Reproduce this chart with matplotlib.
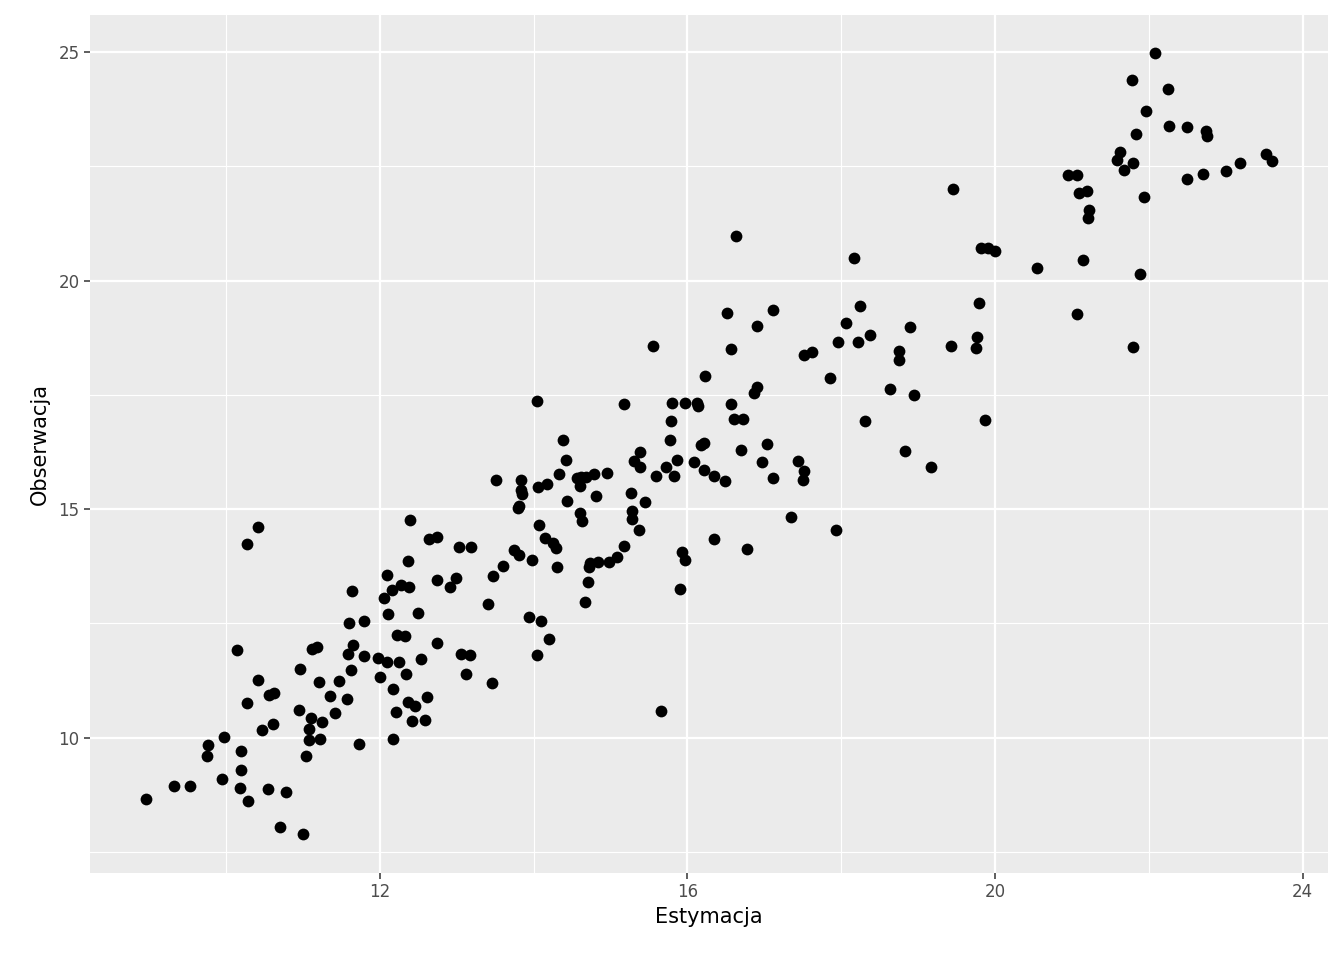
import matplotlib
matplotlib.use("Agg")
import matplotlib.pyplot as plt
from matplotlib.ticker import MultipleLocator

# Estymacja vs Obserwacja
estymacja = [8.96, 9.32, 9.53, 9.75, 9.76, 9.95, 9.97, 10.14, 10.18, 10.19, 10.19, 10.27, 10.27, 10.28,
             10.41, 10.41, 10.47, 10.54, 10.56, 10.62, 10.61, 10.70, 10.78, 10.95, 10.96, 11.0, 11.04,
             11.08, 11.08, 11.10, 11.12, 11.18, 11.21, 11.22, 11.25, 11.35, 11.41, 11.47, 11.57, 11.58,
             11.60, 11.62, 11.65, 11.64, 11.73, 11.79, 11.79, 11.97, 12.0, 12.05, 12.09, 12.09, 12.10,
             12.16, 12.17, 12.17, 12.21, 12.22, 12.25, 12.27, 12.33, 12.34, 12.36, 12.36, 12.39, 12.38,
             12.42, 12.46, 12.49, 12.53, 12.59, 12.61, 12.64, 12.74, 12.74, 12.74, 12.91, 12.99, 13.03,
             13.05, 13.12, 13.17, 13.18, 13.40, 13.46, 13.47, 13.51, 13.60, 13.74, 13.81, 13.81, 13.83,
             13.83, 13.85, 13.79, 13.94, 13.98, 14.04, 14.05, 14.07, 14.04, 14.09, 14.15, 14.17, 14.20,
             14.25, 14.29, 14.30, 14.33, 14.38, 14.42, 14.43, 14.56, 14.60, 14.60, 14.61, 14.63, 14.67,
             14.68, 14.70, 14.72, 14.73, 14.78, 14.81, 14.83, 14.96, 14.98, 15.09, 15.17, 15.18, 15.26,
             15.28, 15.28, 15.31, 15.37, 15.38, 15.38, 15.45, 15.55, 15.59, 15.65, 15.72, 15.77, 15.78,
             15.80, 15.83, 15.86, 15.90, 15.93, 15.97, 15.97, 16.09, 16.12, 16.14, 16.17, 16.21, 16.21,
             16.23, 16.34, 16.34, 16.49, 16.52, 16.56, 16.57, 16.60, 16.63, 16.69, 16.72, 16.77, 16.86,
             16.90, 16.90, 16.97, 17.03, 17.11, 17.11, 17.34, 17.44, 17.50, 17.51, 17.51, 17.62, 17.85,
             17.93, 17.96, 18.06, 18.16, 18.22, 18.25, 18.31, 18.37, 18.63, 18.75, 18.75, 18.83, 18.89,
             18.94, 19.17, 19.43, 19.45, 19.75, 19.76, 19.79, 19.82, 19.87, 19.91, 20.0, 20.54, 20.95,
             21.06, 21.06, 21.09, 21.15, 21.19, 21.22, 21.21, 21.58, 21.62, 21.68, 21.78, 21.79, 21.79,
             21.83, 21.88, 21.94, 21.96, 22.08, 22.25, 22.26, 22.49, 22.49, 22.70, 22.74, 22.75, 23.0,
             23.18, 23.53, 23.60]
obserwacja = [8.65, 8.94, 8.94, 9.59, 9.84, 9.09, 10.01, 11.91, 8.89, 9.29, 9.70, 10.75, 14.23, 8.61,
              14.61, 11.26, 10.16, 8.87, 10.93, 10.97, 10.29, 8.04, 8.81, 10.60, 11.50, 7.89, 9.59,
              10.19, 9.95, 10.43, 11.94, 11.98, 11.21, 9.97, 10.34, 10.91, 10.54, 11.24, 10.84, 11.83,
              12.51, 11.48, 12.02, 13.21, 9.86, 11.78, 12.55, 11.74, 11.32, 13.05, 13.56, 11.65, 12.70,
              13.23, 11.06, 9.97, 10.56, 12.24, 11.65, 13.34, 12.22, 11.39, 10.78, 13.86, 14.76, 13.29,
              10.36, 10.69, 12.72, 11.72, 10.38, 10.89, 14.34, 14.39, 12.07, 13.45, 13.29, 13.49, 14.17,
              11.83, 11.39, 11.81, 14.17, 12.92, 11.19, 13.53, 15.63, 13.75, 14.10, 14.0, 15.07, 15.63,
              15.42, 15.33, 15.02, 12.64, 13.88, 17.36, 15.48, 14.65, 11.81, 12.55, 14.37, 15.55, 12.16,
              14.26, 14.15, 13.73, 15.77, 16.51, 16.07, 15.17, 15.68, 15.50, 14.91, 15.70, 14.74, 12.97,
              15.70, 13.40, 13.73, 13.82, 15.77, 15.28, 13.84, 15.79, 13.84, 13.95, 14.19, 17.30, 15.35,
              14.78, 14.96, 16.05, 14.54, 16.25, 15.92, 15.15, 18.57, 15.72, 10.58, 15.92, 16.51, 16.93,
              17.32, 15.72, 16.07, 13.25, 14.06, 13.88, 17.32, 16.03, 17.32, 17.25, 16.40, 16.44, 15.85,
              17.91, 15.72, 14.34, 15.61, 19.29, 17.30, 18.50, 16.97, 20.97, 16.29, 16.97, 14.12, 17.54,
              17.67, 19.0, 16.03, 16.42, 15.68, 19.35, 14.82, 16.05, 15.63, 15.83, 18.37, 18.44, 17.87,
              14.54, 18.65, 19.07, 20.49, 18.65, 19.44, 16.93, 18.81, 17.63, 18.46, 18.26, 16.27, 18.98,
              17.49, 15.92, 18.57, 22.0, 18.52, 18.76, 19.51, 20.71, 16.95, 20.71, 20.65, 20.27, 22.31,
              22.31, 19.27, 21.91, 20.45, 21.96, 21.54, 21.37, 22.64, 22.81, 22.42, 24.39, 22.57, 18.55,
              23.21, 20.14, 21.83, 23.71, 24.98, 24.19, 23.38, 23.36, 22.22, 22.33, 23.27, 23.16, 22.40,
              22.57, 22.77, 22.62]

fig = plt.figure(figsize=(13.44, 9.6), dpi=100)
ax = fig.add_axes([90/1344, 1 - 873/960, (1328 - 90)/1344, (873 - 15)/960])
ax.set_facecolor('#ebebeb')
ax.scatter(estymacja, obserwacja, s=72, color='black', zorder=3, linewidths=0)

ax.set_xlim(8.23, 24.33)
ax.set_ylim(7.04, 25.81)
ax.xaxis.set_major_locator(MultipleLocator(4))
ax.xaxis.set_minor_locator(MultipleLocator(2))
ax.yaxis.set_major_locator(MultipleLocator(5))
ax.yaxis.set_minor_locator(MultipleLocator(2.5))
ax.grid(which='major', color='white', linewidth=1.6, zorder=0)
ax.grid(which='minor', color='white', linewidth=0.8, zorder=0)
ax.set_axisbelow(True)
for s in ax.spines.values():
    s.set_visible(False)
ax.tick_params(which='major', length=4, color='#333333', labelsize=12, labelcolor='#4d4d4d', width=1.1)
ax.tick_params(which='minor', length=0)
ax.set_xlabel('Estymacja', fontsize=15, labelpad=4)
ax.set_ylabel('Obserwacja', fontsize=15, labelpad=6)

fig.savefig('out.png', dpi=100)
